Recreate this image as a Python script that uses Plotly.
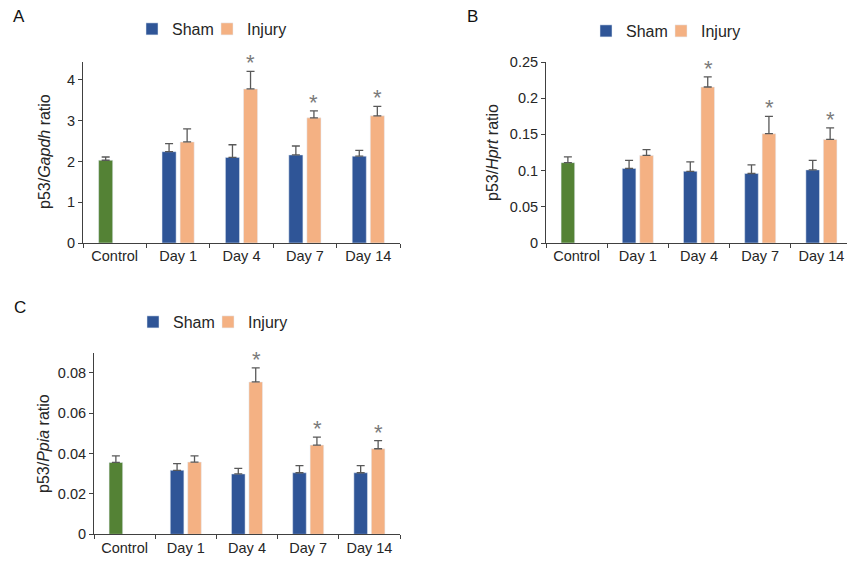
import plotly.graph_objects as go

W, H = 847, 561

categories = ["Control", "Day 1", "Day 4", "Day 7", "Day 14"]
days = ["Day 1", "Day 4", "Day 7", "Day 14"]

# Panel A: p53/Gapdh
A_control = [2.03]
A_control_err = [0.08]
A_sham = [2.24, 2.10, 2.16, 2.13]
A_sham_err = [0.20, 0.31, 0.22, 0.14]
A_inj = [2.48, 3.78, 3.07, 3.12]
A_inj_err = [0.32, 0.43, 0.17, 0.23]

# Panel B: p53/Hprt
B_control = [0.111]
B_control_err = [0.008]
B_sham = [0.103, 0.099, 0.096, 0.101]
B_sham_err = [0.011, 0.013, 0.012, 0.013]
B_inj = [0.121, 0.2155, 0.151, 0.143]
B_inj_err = [0.008, 0.014, 0.024, 0.016]

# Panel C: p53/Ppia
C_control = [0.0356]
C_control_err = [0.0033]
C_sham = [0.0317, 0.0299, 0.0305, 0.0305]
C_sham_err = [0.0033, 0.0028, 0.0035, 0.0035]
C_inj = [0.0358, 0.0755, 0.0442, 0.0424]
C_inj_err = [0.0031, 0.0070, 0.0040, 0.0040]

# significance marks (Injury vs Sham)
sig_days = ["Day 4", "Day 7", "Day 14"]

GREEN = "#548235"
BLUE = "#2F5597"
ORANGE = "#F4B183"
ERR = "#595959"
STAR = "#7A7A7A"
TXT = "#262626"
FONT = "Liberation Sans, Arial, sans-serif"

fig = go.Figure()

panels = [
    dict(key="", leg="legend", ctrl=A_control, ctrl_err=A_control_err, sham=A_sham, sham_err=A_sham_err,
         inj=A_inj, inj_err=A_inj_err, title="p53/<i>Gapdh</i> ratio"),
    dict(key="2", leg="legend2", ctrl=B_control, ctrl_err=B_control_err, sham=B_sham, sham_err=B_sham_err,
         inj=B_inj, inj_err=B_inj_err, title="p53/<i>Hprt</i> ratio"),
    dict(key="3", leg="legend3", ctrl=C_control, ctrl_err=C_control_err, sham=C_sham, sham_err=C_sham_err,
         inj=C_inj, inj_err=C_inj_err, title="p53/<i>Ppia</i> ratio"),
]


def err(arr):
    return dict(type="data", array=arr, arrayminus=[0] * len(arr), symmetric=False,
                color=ERR, thickness=1.3, width=4)


for p in panels:
    xa = "x" + p["key"]
    ya = "y" + p["key"]
    fig.add_trace(go.Bar(x=["Control"], y=p["ctrl"], error_y=err(p["ctrl_err"]), marker_color=GREEN,
                         offsetgroup="sham", xaxis=xa, yaxis=ya, showlegend=False, name="Control"))
    fig.add_trace(go.Bar(x=days, y=p["sham"], error_y=err(p["sham_err"]), marker_color=BLUE,
                         offsetgroup="sham", xaxis=xa, yaxis=ya, name="Sham", legend=p["leg"],
                         legendwidth=30))
    fig.add_trace(go.Bar(x=days, y=p["inj"], error_y=err(p["inj_err"]), marker_color=ORANGE,
                         offsetgroup="inj", xaxis=xa, yaxis=ya, name="Injury", legend=p["leg"],
                         legendwidth=50))
    for d in sig_days:
        i = days.index(d)
        fig.add_annotation(x=d, y=p["inj"][i] + p["inj_err"][i], xref=xa, yref=ya, text="*",
                           showarrow=False, yanchor="bottom", xshift=9, yshift=-6,
                           font=dict(size=22, color=STAR, family=FONT))


def px_x(a, b):
    return [a / W, b / W]


def px_y(top, bottom):
    return [1 - bottom / H, 1 - top / H]


axis_common = dict(showline=True, linecolor="#404040", linewidth=1, ticks="outside", ticklen=4,
                   tickcolor="#404040", showgrid=False, zeroline=False,
                   tickfont=dict(size=14.5, color=TXT, family=FONT))

layout = dict(
    width=W, height=H, margin=dict(l=0, r=0, t=0, b=0, autoexpand=False),
    paper_bgcolor="white", plot_bgcolor="white",
    barmode="group", bargap=0.43, bargroupgap=0.22,
    font=dict(family=FONT, color=TXT),
)

# Panel geometry in pixels
geo = {
    "": dict(x=(83, 400), y=(62, 243), yr=[0, 4.44], dtick=1, xr=[-0.5, 4.5], tx=44, ty=152),
    "2": dict(x=(546, 847), y=(62, 243), yr=[0, 0.25], dtick=0.05, xr=[-0.5, 4.418], tx=492, ty=153),
    "3": dict(x=(94, 400), y=(352.7, 534.3), yr=[0, 0.09], dtick=0.02, xr=[-0.5, 4.5], tx=43, ty=444),
}

for p in panels:
    k = p["key"]
    g = geo[k]
    layout["xaxis" + k] = dict(axis_common, domain=px_x(*g["x"]), anchor="y" + k, type="category",
                               categoryorder="array", categoryarray=categories, tickson="boundaries",
                               range=g["xr"])
    layout["yaxis" + k] = dict(axis_common, domain=px_y(*g["y"]), anchor="x" + k, range=g["yr"],
                               dtick=g["dtick"], tick0=0)

legend_common = dict(orientation="h", bgcolor="rgba(0,0,0,0)", borderwidth=0,
                     font=dict(size=16, color=TXT, family=FONT), xanchor="left", yanchor="middle",
                     itemwidth=30, tracegroupgap=0, entrywidthmode="pixels")
layout["legend"] = dict(legend_common, x=132 / W, y=1 - 29 / H)
layout["legend2"] = dict(legend_common, x=586 / W, y=1 - 31 / H)
layout["legend3"] = dict(legend_common, x=133 / W, y=1 - 322 / H)

fig.update_layout(**layout)

# y-axis titles
for p in panels:
    g = geo[p["key"]]
    fig.add_annotation(text=p["title"], x=g["tx"] / W, y=1 - g["ty"] / H, xref="paper", yref="paper",
                       showarrow=False, textangle=-90, xanchor="center", yanchor="middle",
                       font=dict(size=16, color=TXT, family=FONT))

# panel letters
for txt, x, y in [("A", 19, 17), ("B", 472, 17), ("C", 20, 307)]:
    fig.add_annotation(text=txt, x=x / W, y=1 - y / H, xref="paper", yref="paper", showarrow=False,
                       xanchor="center", yanchor="middle", font=dict(size=17, color="#111", family=FONT))

fig.write_html("out.html", config={"displayModeBar": False},
               post_script="document.body.style.margin='0px';")
